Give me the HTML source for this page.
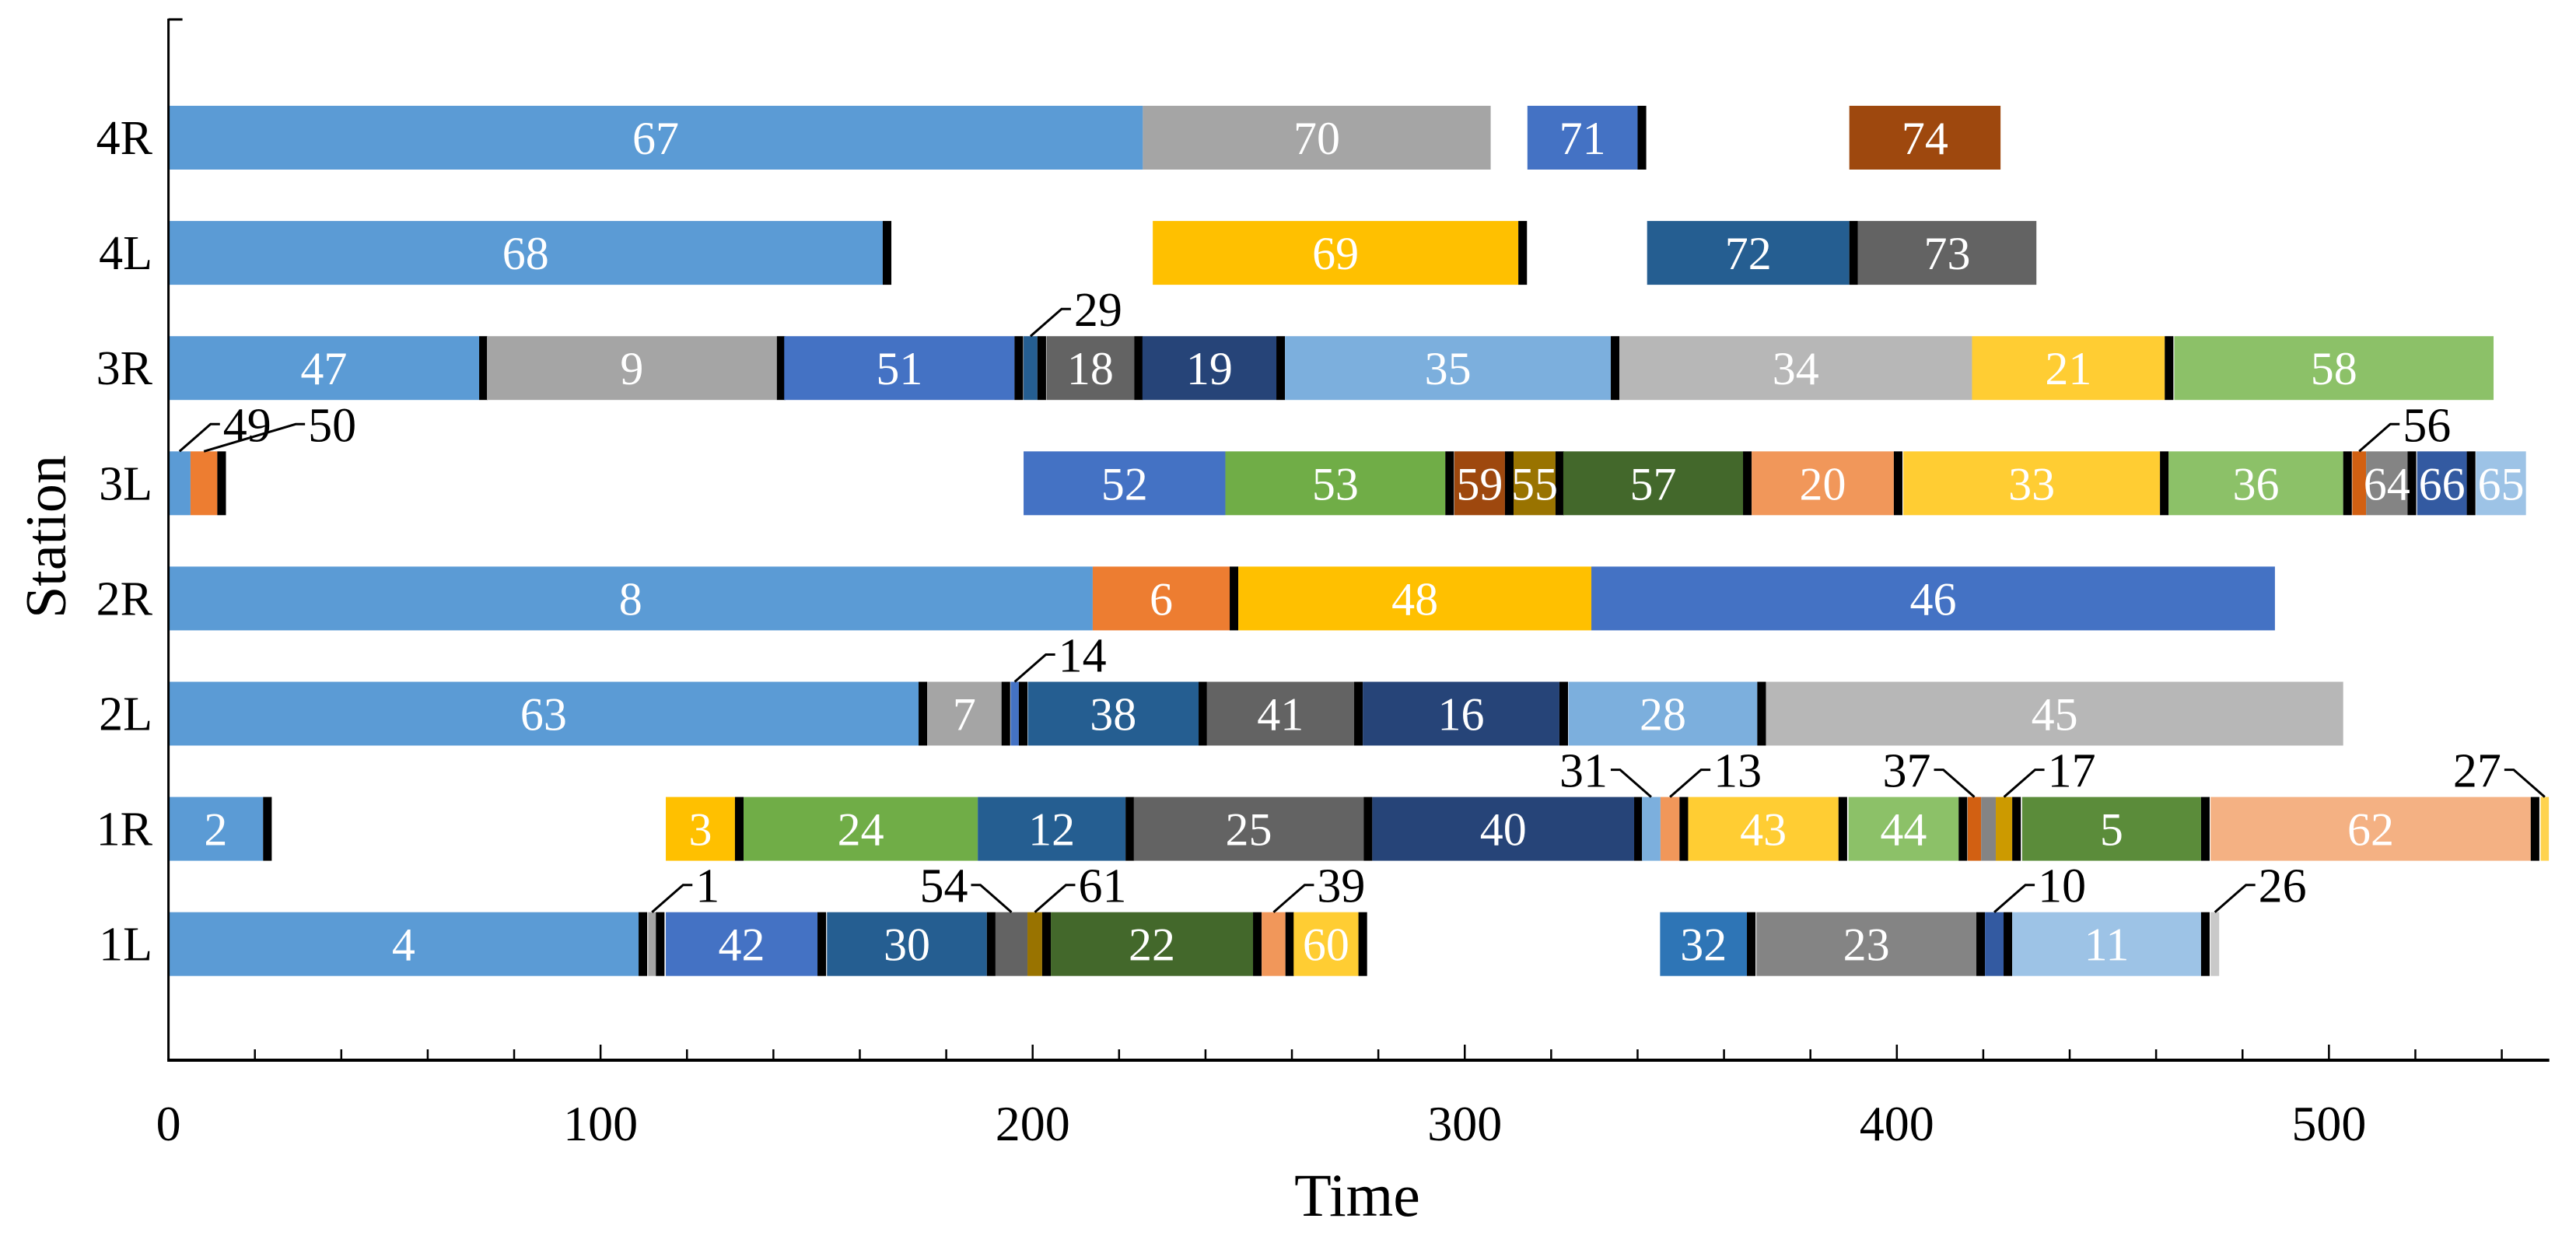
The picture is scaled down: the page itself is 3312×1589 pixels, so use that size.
<!DOCTYPE html>
<html><head><meta charset="utf-8">
<style>
html,body{margin:0;padding:0;background:#fff;}
svg{display:block;}
svg text{font-family:"Liberation Serif","Times New Roman","DejaVu Serif",serif;}
</style></head>
<body>
<svg id="chart" width="3312" height="1589" viewBox="0 0 3312 1589" xmlns="http://www.w3.org/2000/svg" font-family="Liberation Serif, Times New Roman, serif"></svg>
<script>
const stations = ['1L','1R','2L','2R','3L','3R','4L','4R'];
const xTicks = [0,100,200,300,400,500];
const taskLabels = ['67','70','71','74', '68','69','72','73',
 '47','9','51','29','18','19','35','34','21','58',
 '49','50','52','53','59','55','57','20','33','36','56','64','66','65',
 '8','6','48','46',
 '63','7','14','38','41','16','28','45',
 '2','3','24','12','25','40','31','13','43','44','37','','17','5','62','27',
 '4','1','42','30','54','61','22','39','60','32','23','10','11','26'];
const taskStation = [7,7,7,7, 6,6,6,6,
 5,5,5,5,5,5,5,5,5,5,
 4,4,4,4,4,4,4,4,4,4,4,4,4,4,
 3,3,3,3,
 2,2,2,2,2,2,2,2,
 1,1,1,1,1,1,1,1,1,1,1,1,1,1,1,1,
 0,0,0,0,0,0,0,0,0,0,0,0,0,0];
const taskStart = [0,225.5,314.5,389, 0,227.8,342.2,391,
 0,73.7,142.5,197.9,203.2,225.4,258.4,335.8,417.4,464.2,
 0,5.1,197.9,244.6,297.6,311.3,322.8,366.4,401.5,462.9,505.4,508.6,520.4,534,
 0,213.9,247.6,329.3,
 0,175.6,194.9,198.9,240.3,276.4,324,369.7,
 0,115.1,133.1,187.3,223.4,278.6,341,345.3,351.7,388.8,416.4,419.5,422.9,429,472.6,549,
 0,111,115.1,152.4,191.4,198.8,204.2,253,260.4,345.2,367.5,420.4,426.7,472.6];
const taskEnd = [225.5,306,340,424, 165.3,312.4,389,432.3,
 71.9,140.8,195.8,201.1,223.5,256.4,333.8,417.4,462,538.1,
 5.1,11.3,244.6,295.5,309.3,321,364.4,399.3,460.9,503.3,508.6,518.2,531.9,545.6,
 213.9,245.6,329.3,487.5,
 173.6,192.8,196.8,238.4,274.4,321.9,367.7,503.3,
 21.9,131.1,187.3,221.5,276.6,339.2,345.3,349.7,386.5,414.3,419.5,422.9,426.7,470.4,546.7,550.9,
 108.8,112.8,150.2,189.4,198.8,202.2,251,258.5,275.4,365.3,418.4,424.7,470.4,474.6];
const taskTail = [0,0,1,0, 1,1,1,0,
 1,1,1,1,1,1,1,0,1,0,
 0,1,0,1,1,1,1,1,1,1,0,1,1,0,
 0,1,0,0,
 1,1,1,1,1,1,1,0,
 1,1,0,1,1,1,0,1,1,1,0,0,1,1,1,0,
 1,1,1,1,0,1,1,1,1,1,1,1,1,0];
const taskColor = ['#5b9bd5','#a5a5a5','#4472c4','#9e480e', '#5b9bd5','#ffc000','#255e91','#636363',
 '#5b9bd5','#a5a5a5','#4472c4','#255e91','#636363','#264478','#7cafdd','#b7b7b7','#ffcd33','#8cc168',
 '#5b9bd5','#ed7d31','#4472c4','#70ad47','#9e480e','#997300','#43682b','#f1975a','#ffcd33','#8cc168','#d26012','#848484','#335aa1','#9dc3e6',
 '#5b9bd5','#ed7d31','#ffc000','#4472c4',
 '#5b9bd5','#a5a5a5','#4472c4','#255e91','#636363','#264478','#7cafdd','#b7b7b7',
 '#5b9bd5','#ffc000','#70ad47','#255e91','#636363','#264478','#7cafdd','#f1975a','#ffcd33','#8cc168','#d26012','#848484','#cc9a00','#5b8c3a','#f4b183','#ffd34d',
 '#5b9bd5','#a5a5a5','#4472c4','#255e91','#636363','#997300','#43682b','#f1975a','#ffcd33','#2e75b6','#848484','#335aa1','#9dc3e6','#c9c9c9'];
const calloutLabels = ['49','50','29','56','14','31','13','37','17','27','1','54','61','39','10','26'];
const calloutLeft = ['31','37','27','54'];
const calloutLong = ['50'];

const svg = document.getElementById('chart');
const NS = 'http://www.w3.org/2000/svg';
const FONT = '"Liberation Serif", "Times New Roman", serif';
const X0 = 216.6, PXU = 5.5555, Y_TOP_CENTER = 177, ROW = 148.1, BAR_H = 82, AXIS_Y = 1363;
function xScale(v){ return X0 + v*PXU; }
function yScale(si){ return Y_TOP_CENTER + (7-si)*ROW; }
function mk(tag, attrs){ const e=document.createElementNS(NS,tag); for(const k in attrs) e.setAttribute(k,attrs[k]); if(tag==='text') e.style.fontFamily=FONT; svg.appendChild(e); return e; }

for(let i=0;i<taskLabels.length;i++){
  const yc=yScale(taskStation[i]);
  const x1=xScale(taskStart[i]), x2=xScale(taskEnd[i]);
  const r=mk('rect',{x:x1,y:yc-BAR_H/2,width:Math.max(0,x2-x1),height:BAR_H,fill:taskColor[i]});
  
  
  if(taskTail[i]){
    const t=mk('rect',{x:x2,y:yc-BAR_H/2,width:xScale(taskEnd[i]+2)-x2,height:BAR_H,fill:'#000'});
    
    
  }
  if(taskLabels[i] && calloutLabels.indexOf(taskLabels[i])<0){
    const tx=mk('text',{x:(x1+x2)/2,y:yc+21,'font-size':60,fill:'#fff','text-anchor':'middle'});
    tx.textContent=taskLabels[i];
    
    
  }
  if(calloutLabels.indexOf(taskLabels[i])>=0){
    const xc=(x1+x2)/2, top=yc-BAR_H/2;
    const dir=calloutLeft.indexOf(taskLabels[i])>=0?-1:1;
    const reach=calloutLong.indexOf(taskLabels[i])>=0?118:40;
    const ly=top-35;
    const p=mk('polyline',{points:`${xc},${top} ${xc+dir*reach},${ly} ${xc+dir*(reach+12)},${ly}`,fill:'none',stroke:'#000','stroke-width':3});
    
    
    const tx=mk('text',{x:xc+dir*(reach+16),y:ly+22,'font-size':62,fill:'#000','text-anchor':dir>0?'start':'end'});
    tx.textContent=taskLabels[i];
    
    
  }
}

const ya=mk('line',{x1:X0,y1:24,x2:X0,y2:AXIS_Y,stroke:'#000','stroke-width':3});


const yt=mk('line',{x1:X0,y1:25,x2:X0+18,y2:25,stroke:'#000','stroke-width':3});


const xa=mk('line',{x1:X0-1.5,y1:AXIS_Y,x2:xScale(551),y2:AXIS_Y,stroke:'#000','stroke-width':4});


for(let v=20; v<=550; v+=20){
  const major = v%100===0;
  const tk=mk('line',{x1:xScale(v),y1:AXIS_Y-(major?20:14),x2:xScale(v),y2:AXIS_Y,stroke:'#000','stroke-width':2.5});
  
  
}
for(const v of xTicks){
  const t=mk('text',{x:xScale(v),y:1466,'font-size':64,fill:'#000','text-anchor':'middle'});
  t.textContent=String(v);
  
  
}
for(let s=0;s<stations.length;s++){
  const t=mk('text',{x:196,y:yScale(s)+21,'font-size':62,fill:'#000','text-anchor':'end'});
  t.textContent=stations[s];
  
  
}
const xt=mk('text',{x:1745,y:1563,'font-size':78,fill:'#000','text-anchor':'middle'});
xt.textContent='Time';


const st=mk('text',{x:0,y:0,'font-size':74,fill:'#000','text-anchor':'middle',transform:'translate(84,690) rotate(-90)'});
st.textContent='Station';


</script>
</body></html>
